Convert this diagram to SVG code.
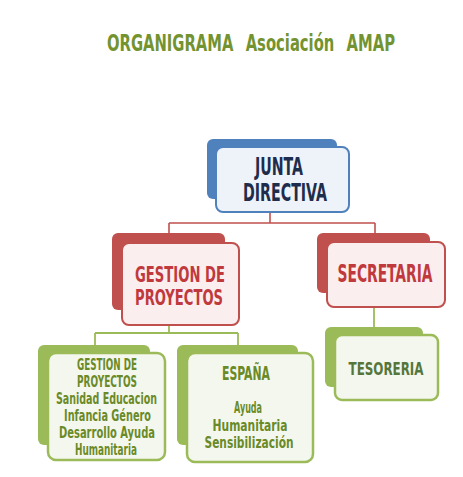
<svg xmlns="http://www.w3.org/2000/svg" width="463" height="477" viewBox="0 0 463 477">
<style>
text{font-family:"DejaVu Sans Condensed","Liberation Sans Narrow","Liberation Sans",sans-serif;font-weight:bold;text-anchor:middle}
.title{fill:#739330;font-size:23px;text-anchor:start;word-spacing:10px}
.bk-b{fill:#4f81bd}
.fr-b{fill:#eef2f9;stroke:#4f81bd;stroke-width:2}
.bk-r{fill:#c0504d}
.fr-r{fill:#fbeeee;stroke:#c0504d;stroke-width:2}
.bk-g{fill:#9bbb59}
.fr-g{fill:#f4f7ee;stroke:#9bbb59;stroke-width:2.5}
.tb{fill:#1f2d4d;font-size:24px}
.tr{fill:#c0393d;font-size:22px}
.tg{fill:#6a8a28;font-size:16px}
.sm{font-size:15.2px}
.c-r{stroke:#c0504d;stroke-width:1.6;fill:none}
.c-g{stroke:#9bbb59;stroke-width:1.8;fill:none}
</style>
<rect width="463" height="477" fill="#ffffff"/>
<text class="title" transform="translate(107,51) scale(0.75,1)" textLength="384" lengthAdjust="spacingAndGlyphs">ORGANIGRAMA Asociación AMAP</text>
<g id="connectors">
<path class="c-r" d="M270,212V223M169,223H375M169,223V233M375,223V233"/>
<path class="c-g" d="M169,325V333M95,333H238M95,333V345M238,333V345"/>
<path class="c-g" d="M374,307V327"/>
</g>
<g id="junta">
<rect class="bk-b" x="207" y="139" width="130" height="60" rx="6"/>
<rect class="fr-b" x="216" y="147" width="133" height="65" rx="7"/>
<text class="tb" transform="translate(279,175) scale(0.64,1)" textLength="75" lengthAdjust="spacingAndGlyphs">JUNTA</text>
<text class="tb" transform="translate(285,201) scale(0.649,1)" textLength="129.4" lengthAdjust="spacingAndGlyphs">DIRECTIVA</text>
</g>
<g id="gestion">
<rect class="bk-r" x="112" y="233" width="113" height="77" rx="6"/>
<rect class="fr-r" x="122" y="243" width="117" height="82" rx="7"/>
<text class="tr" transform="translate(180,282) scale(0.666,1)" textLength="135" lengthAdjust="spacingAndGlyphs">GESTION DE</text>
<text class="tr" transform="translate(179,305) scale(0.659,1)" textLength="133.5" lengthAdjust="spacingAndGlyphs">PROYECTOS</text>
</g>
<g id="secretaria">
<rect class="bk-r" x="317" y="233" width="113" height="60" rx="6"/>
<rect class="fr-r" x="327" y="242" width="118" height="65" rx="7"/>
<text class="tr" style="font-size:24px" transform="translate(385,282) scale(0.632,1)" textLength="150.4" lengthAdjust="spacingAndGlyphs">SECRETARIA</text>
</g>
<g id="tesoreria">
<rect class="bk-g" x="325" y="327" width="98" height="60" rx="6"/>
<rect class="fr-g" x="335" y="335" width="103" height="65" rx="7"/>
<text class="tg" style="fill:#55763a;font-size:18px" transform="translate(386,375) scale(0.735,1)" textLength="102" lengthAdjust="spacingAndGlyphs">TESORERIA</text>
</g>
<g id="gestion-proyectos">
<rect class="bk-g" x="38" y="345" width="112" height="100" rx="6"/>
<rect class="fr-g" x="48" y="353" width="117" height="107" rx="8"/>
<text class="tg sm" transform="translate(107,370) scale(0.61,1)" textLength="98.3" lengthAdjust="spacingAndGlyphs">GESTION DE</text>
<text class="tg sm" transform="translate(107,387) scale(0.618,1)" textLength="97.1" lengthAdjust="spacingAndGlyphs">PROYECTOS</text>
<text class="tg sm" transform="translate(106.5,404) scale(0.66,1)" textLength="153" lengthAdjust="spacingAndGlyphs">Sanidad Educacion</text>
<text class="tg sm" transform="translate(107.5,421) scale(0.676,1)" textLength="128.6" lengthAdjust="spacingAndGlyphs">Infancia Género</text>
<text class="tg sm" transform="translate(107,438) scale(0.687,1)" textLength="139.7" lengthAdjust="spacingAndGlyphs">Desarrollo Ayuda</text>
<text class="tg sm" transform="translate(106,455) scale(0.616,1)" textLength="100.6" lengthAdjust="spacingAndGlyphs">Humanitaria</text>
</g>
<g id="espana">
<rect class="bk-g" x="177" y="345" width="121" height="100" rx="6"/>
<rect class="fr-g" x="187" y="353" width="126" height="109" rx="8"/>
<text class="tg" style="font-size:20px" transform="translate(246,380) scale(0.59,1)" textLength="81.4" lengthAdjust="spacingAndGlyphs">ESPAÑA</text>
<text class="tg" transform="translate(248,413) scale(0.551,1)" textLength="50.8" lengthAdjust="spacingAndGlyphs">Ayuda</text>
<text class="tg" transform="translate(250,431) scale(0.746,1)" textLength="100.6" lengthAdjust="spacingAndGlyphs">Humanitaria</text>
<text class="tg" transform="translate(249,448) scale(0.737,1)" textLength="120.8" lengthAdjust="spacingAndGlyphs">Sensibilización</text>
</g>
</svg>
